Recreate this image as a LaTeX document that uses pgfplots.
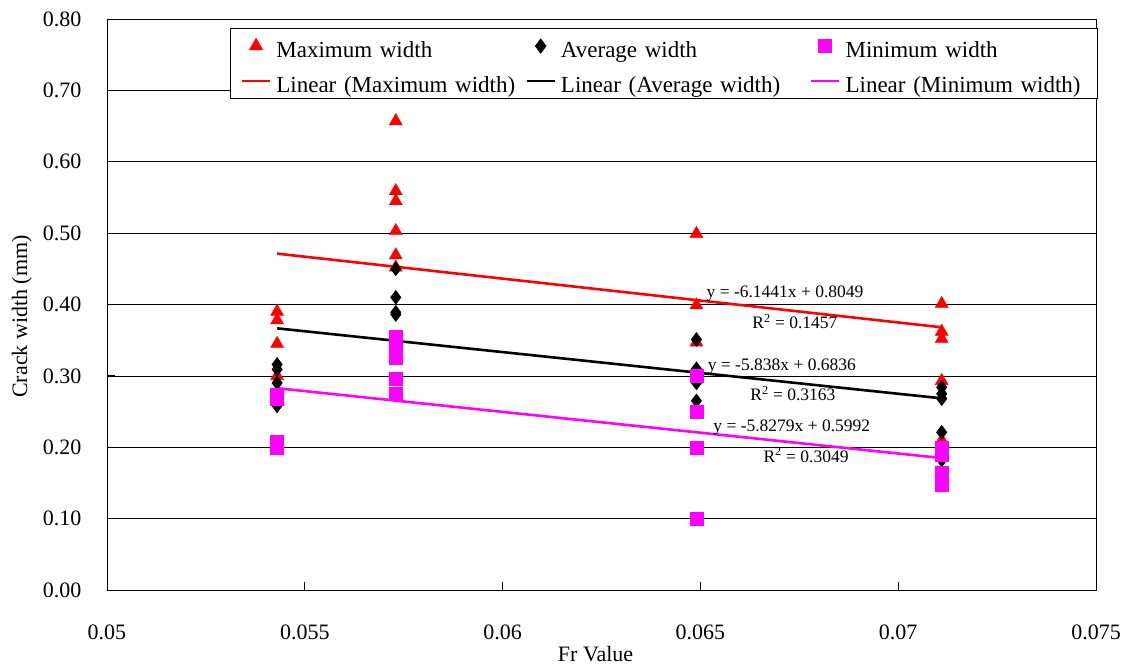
\documentclass[border=0pt]{standalone}
\usepackage{fontspec}
\setmainfont{Liberation Serif}
\usepackage{pgfplots}
\pgfplotsset{compat=1.18}
\definecolor{xred}{RGB}{255,0,0}
\definecolor{xmag}{RGB}{255,0,255}
\begin{document}
\begin{tikzpicture}
\begin{axis}[
  scale only axis, width=989pt, height=571pt,
  xmin=0.05, xmax=0.075, ymin=0, ymax=0.8,
  scaled x ticks=false,
  xtick={0.05,0.055,0.06,0.065,0.07,0.075},
  xticklabels={0.05,0.055,0.06,0.065,0.07,0.075},
  ytick={0,0.1,0.2,0.3,0.4,0.5,0.6,0.7,0.8},
  yticklabel style={/pgf/number format/fixed, /pgf/number format/fixed zerofill, /pgf/number format/precision=2, /pgf/number format/assume math mode=true, xshift=-22pt},
  xticklabel style={yshift=-31pt},
  ticklabel style={font=\fontsize{22}{26}\selectfont},
  ymajorgrids, grid style={black, line width=0.6pt},
  tick align=inside, xtick pos=bottom, ytick pos=left,
  tick style={black, line width=0.8pt}, major tick length=8pt,
  axis line style={black, line width=0.8pt},
  xlabel={Fr Value}, ylabel={Crack width (mm)},
  label style={font=\fontsize{22}{26}\selectfont},
  xlabel style={at={(axis description cs:0.494,-0.112)}, anchor=center},
  ylabel style={at={(axis description cs:-0.086,0.479)}, anchor=center},
  legend columns=3,
  legend image code/.code={\draw[mark repeat=2,mark phase=2,#1] plot coordinates {(0pt,0pt) (14pt,0pt) (28pt,0pt)};},
  legend style={at={(axis description cs:1.002,0.984)}, anchor=north east,
    draw=black, line width=0.8pt, font=\fontsize{23}{27}\selectfont,
    nodes={text width=239pt, align=left, inner sep=3pt, text height=24pt, text depth=1pt},
    column sep=2pt, row sep=4pt, inner xsep=10pt, inner ysep=2pt,
    /tikz/every even column/.append style={column sep=7pt}},
]
\addplot[only marks, mark=triangle*, mark size=7.5pt, color=xred] coordinates {
 (0.0543,0.390) (0.0543,0.378) (0.0543,0.345) (0.0543,0.300)
 (0.0573,0.657) (0.0573,0.559) (0.0573,0.545) (0.0573,0.503) (0.0573,0.469) (0.0573,0.452)
 (0.0649,0.499) (0.0649,0.399) (0.0649,0.347)
 (0.0711,0.401) (0.0711,0.362) (0.0711,0.352) (0.0711,0.293) (0.0711,0.210)
};
\addlegendentry{Maximum width}
\addplot[only marks, mark=diamond*, mark size=7pt, color=black] coordinates {
 (0.0543,0.316) (0.0543,0.309) (0.0543,0.290) (0.0543,0.258)
 (0.0573,0.450) (0.0573,0.410) (0.0573,0.389) (0.0573,0.386)
 (0.0649,0.351) (0.0649,0.310) (0.0649,0.290) (0.0649,0.265)
 (0.0711,0.284) (0.0711,0.275) (0.0711,0.268) (0.0711,0.221) (0.0711,0.182)
};
\addlegendentry{Average width}
\addplot[only marks, mark=square*, mark size=6.5pt, color=xmag] coordinates {
 (0.0543,0.273) (0.0543,0.268) (0.0543,0.208) (0.0543,0.200)
 (0.0573,0.355) (0.0573,0.345) (0.0573,0.335) (0.0573,0.325) (0.0573,0.296) (0.0573,0.275)
 (0.0649,0.300) (0.0649,0.250) (0.0649,0.200) (0.0649,0.100)
 (0.0711,0.200) (0.0711,0.190) (0.0711,0.165) (0.0711,0.155) (0.0711,0.148)
};
\addlegendentry{Minimum width}
\addplot[xred, line width=2.6pt, no marks] coordinates {(0.0543,0.47127) (0.0711,0.36805)};
\addlegendentry{Linear (Maximum width)}
\addplot[black, line width=2.6pt, no marks] coordinates {(0.0543,0.36660) (0.0711,0.26852)};
\addlegendentry{Linear (Average width)}
\addplot[xmag, line width=2.6pt, no marks] coordinates {(0.0543,0.28275) (0.0711,0.18484)};
\addlegendentry{Linear (Minimum width)}
\begin{scope}[every node/.style={font=\fontsize{17.5}{20}\selectfont, inner sep=0pt}]
\node at (axis cs:0.06714,0.415) {y = -6.1441x + 0.8049};
\node at (axis cs:0.06739,0.376) {R\textsuperscript{2} = 0.1457};
\node at (axis cs:0.06706,0.313) {y = -5.838x + 0.6836};
\node at (axis cs:0.06734,0.2755) {R\textsuperscript{2} = 0.3163};
\node at (axis cs:0.06731,0.228) {y = -5.8279x + 0.5992};
\node at (axis cs:0.06767,0.189) {R\textsuperscript{2} = 0.3049};
\end{scope}
\end{axis}
\pgfresetboundingbox
\path ([shift={(-107pt,-76pt)}]current axis.south west) rectangle ([shift={(36pt,19pt)}]current axis.north east);
\end{tikzpicture}
\end{document}
